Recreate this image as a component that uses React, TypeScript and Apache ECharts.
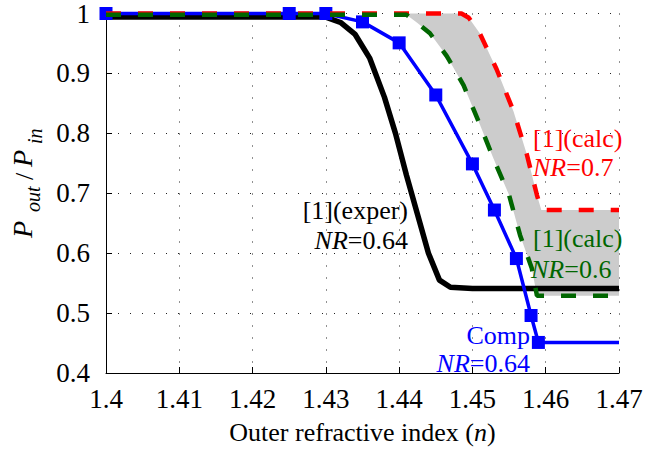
import React, { useEffect, useRef } from "react";
import * as echarts from "echarts";

const xTicks = [1.4, 1.41, 1.42, 1.43, 1.44, 1.45, 1.46, 1.47];
const yTicks = [0.4, 0.5, 0.6, 0.7, 0.8, 0.9, 1];

const experX = [1.4, 1.43, 1.432, 1.434, 1.436, 1.438, 1.4395, 1.441, 1.4425, 1.444, 1.4455, 1.447, 1.45, 1.47];
const experY = [0.994, 0.994, 0.985, 0.965, 0.925, 0.86, 0.8, 0.73, 0.665, 0.6, 0.555, 0.543, 0.541, 0.541];

const compX = [1.4, 1.425, 1.43, 1.435, 1.44, 1.445, 1.45, 1.453, 1.456, 1.458, 1.459, 1.47];
const compY = [1.0, 1.0, 1.0, 0.986, 0.951, 0.864, 0.749, 0.672, 0.591, 0.496, 0.451, 0.451];
const compMarked = [true, true, true, true, true, true, true, true, true, true, true, false];

const calc07X = [1.4, 1.441, 1.4485, 1.4495, 1.451, 1.4533, 1.4556, 1.4574, 1.4588, 1.4594, 1.47];
const calc07Y = [1.0, 1.0, 1.0, 0.993, 0.967, 0.907, 0.837, 0.766, 0.697, 0.672, 0.672];

const calc06X = [1.4, 1.441, 1.4425, 1.4442, 1.4465, 1.4488, 1.451, 1.4528, 1.455, 1.4565, 1.4581, 1.4588, 1.47];
const calc06Y = [0.998, 0.998, 0.984, 0.967, 0.929, 0.88, 0.815, 0.76, 0.697, 0.63, 0.575, 0.529, 0.529];

const fillStartX = 1.441;

const serif = "Liberation Serif";

function pairs(xs: number[], ys: number[]) {
  return xs.map((x, i) => [x, ys[i]]);
}

export default function App() {
  const ref = useRef<HTMLDivElement>(null);
  useEffect(() => {
    if (!ref.current) return;
    const chart = echarts.init(ref.current, null, { renderer: "svg" });

    const upper = pairs(calc07X, calc07Y).filter((p) => p[0] >= fillStartX);
    const lower = pairs(calc06X, calc06Y).filter((p) => p[0] >= fillStartX).reverse();
    const fillPts = upper.concat(lower);

    const label = (text: string, x: number, y: number, color: string, align: string) => ({
      type: "text",
      x,
      y,
      z: 100,
      style: {
        text,
        align,
        verticalAlign: "middle",
        fontFamily: serif,
        fontSize: 26,
        fill: color,
        rich: {
          i: { fontFamily: serif, fontSize: 26, fontStyle: "italic", fill: color },
          n: { fontFamily: serif, fontSize: 26, fill: color },
        },
      },
    });

    const ylab = (text: string, x: number, y: number, size: number, italic: boolean) => ({
      type: "text",
      x,
      y,
      style: {
        text,
        fontFamily: serif,
        fontSize: size,
        fontStyle: italic ? "italic" : "normal",
        fill: "#000",
        verticalAlign: "middle",
      },
    });

    chart.setOption({
      animation: false,
      backgroundColor: "#ffffff",
      textStyle: { fontFamily: serif },
      grid: { left: 106, right: 27, top: 10, bottom: 73, containLabel: false },
      xAxis: {
        type: "value",
        min: 1.4,
        max: 1.47,
        interval: 0.01,
        name: "Outer refractive index ({i|n})",
        nameLocation: "middle",
        nameGap: 46,
        nameTextStyle: {
          fontFamily: serif,
          fontSize: 26,
          color: "#000",
          rich: { i: { fontFamily: serif, fontSize: 26, fontStyle: "italic", color: "#000" } },
        },
        axisLine: { show: true, lineStyle: { color: "#000", width: 1 } },
        axisTick: { show: true, inside: true, length: 6, lineStyle: { color: "#000" } },
        axisLabel: {
          fontFamily: serif,
          fontSize: 27,
          color: "#000",
          margin: 12,
          formatter: (v: number) => String(Number(v.toFixed(2))),
        },
        splitLine: { show: true, lineStyle: { color: "#222", width: 1, type: [1, 11] } },
      },
      yAxis: {
        type: "value",
        min: 0.4,
        max: 1,
        interval: 0.1,
        axisLine: { show: true, lineStyle: { color: "#000", width: 1 } },
        axisTick: { show: true, inside: true, length: 6, lineStyle: { color: "#000" } },
        axisLabel: {
          fontFamily: serif,
          fontSize: 27,
          color: "#000",
          margin: 16,
          formatter: (v: number) => String(Number(v.toFixed(1))),
        },
        splitLine: { show: true, lineStyle: { color: "#222", width: 1, type: [1, 11] } },
      },
      series: [
        {
          type: "custom",
          z: 1,
          silent: true,
          data: [0],
          renderItem: (_params: any, api: any) => ({
            type: "polygon",
            shape: { points: fillPts.map((p) => api.coord(p)) },
            style: { fill: "#cccccc", stroke: "none" },
          }),
        },
        {
          type: "line",
          z: 2,
          clip: false,
          showSymbol: false,
          symbol: "none",
          data: pairs(experX, experY),
          lineStyle: { color: "#000000", width: 5.5 },
        },
        {
          type: "line",
          z: 3,
          clip: false,
          data: compX.map((x, i) => ({
            value: [x, compY[i]],
            symbol: compMarked[i] ? "rect" : "none",
          })),
          symbol: "rect",
          symbolSize: 13,
          showAllSymbol: true,
          itemStyle: { color: "#0000ff" },
          lineStyle: { color: "#0000ff", width: 3.5 },
        },
        {
          type: "line",
          z: 4,
          clip: false,
          symbol: "none",
          data: pairs(calc07X, calc07Y),
          lineStyle: { color: "#ff0000", width: 4.5, type: [15, 17], cap: "butt" },
        },
        {
          type: "line",
          z: 5,
          clip: false,
          symbol: "none",
          data: pairs(calc06X, calc06Y),
          lineStyle: { color: "#006600", width: 4.5, type: [15, 17], cap: "butt" },
        },
      ],
      graphic: [
        label("[1](exper)", 408, 210, "#000000", "right"),
        label("{i|NR}{n|=0.64}", 408, 240, "#000000", "right"),
        label("Comp", 530, 335, "#0000ff", "right"),
        label("{i|NR}{n|=0.64}", 530, 363, "#0000ff", "right"),
        label("[1](calc)", 533, 138, "#ff0000", "left"),
        label("{i|NR}{n|=0.7}", 533, 167, "#ff0000", "left"),
        label("[1](calc)", 533, 238, "#006600", "left"),
        label("{i|NR}{n|=0.6}", 531, 269, "#006600", "left"),
        {
          type: "group",
          x: 32,
          y: 238,
          rotation: Math.PI / 2,
          z: 100,
          children: [
            ylab("P", 0, -10, 28, true),
            ylab("out", 26, 1, 20, true),
            ylab("/", 58, -8, 26, false),
            ylab("P", 71, -10, 28, true),
            ylab("in", 94, 3, 20, true),
          ],
        },
      ],
    });
    return () => chart.dispose();
  }, []);
  return (
    <div
      ref={ref}
      style={{ position: "fixed", left: 0, top: 0, width: 646, height: 450, background: "#fff" }}
    />
  );
}
